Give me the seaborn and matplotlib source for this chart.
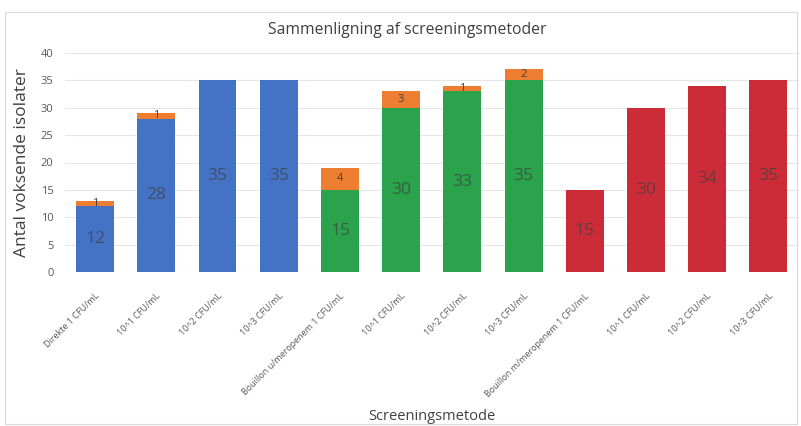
import matplotlib
matplotlib.use("Agg")
import matplotlib.pyplot as plt
import seaborn as sns
import pandas as pd
from matplotlib.patches import Rectangle

labels = ["Direkte 1 CFU/mL", "10^1 CFU/mL", "10^2 CFU/mL", "10^3 CFU/mL",
          "Bouillon u/meropenem 1 CFU/mL", "10^1 CFU/mL", "10^2 CFU/mL", "10^3 CFU/mL",
          "Bouillon m/meropenem 1 CFU/mL", "10^1 CFU/mL", "10^2 CFU/mL", "10^3 CFU/mL"]
base = [12, 28, 35, 35, 15, 30, 33, 35, 15, 30, 34, 35]
extra = [1, 1, 0, 0, 4, 3, 1, 2, 0, 0, 0, 0]
groups = ["Direkte"] * 4 + ["u/meropenem"] * 4 + ["m/meropenem"] * 4
group_colors = {"Direkte": "#4472C4", "u/meropenem": "#2BA24C", "m/meropenem": "#CB2C37"}
orange = "#ED7D31"

ids = [f"b{i}" for i in range(len(labels))]
df = pd.DataFrame({"id": ids, "base": base, "extra": extra, "group": groups})
df["total"] = df["base"] + df["extra"]

sns.set_theme(style="white")
plt.rcParams["font.family"] = ["Open Sans", "DejaVu Sans"]

fig = plt.figure(figsize=(8.01, 4.26), dpi=100)
ax = fig.add_axes([64.5 / 801, 1 - 272 / 426, (799 - 64.5) / 801, (272 - 53) / 426])

sns.barplot(data=df, x="id", y="total", color=orange, width=0.62, ax=ax,
            saturation=1, zorder=2, errorbar=None, linewidth=0)
sns.barplot(data=df, x="id", y="base", hue="group", palette=group_colors, width=0.62,
            ax=ax, saturation=1, zorder=3, dodge=False, legend=False, errorbar=None,
            linewidth=0)

for i, (b, e) in enumerate(zip(base, extra)):
    ax.text(i, b / 2, str(b), ha="center", va="center", fontsize=12.5,
            color="#404040", alpha=0.7, zorder=5)
    if e > 0:
        ax.text(i, b + e / 2, str(e), ha="center", va="center", fontsize=8,
                color="#404040", zorder=5)

ax.set_ylim(0, 40)
ax.set_xlim(-0.5, len(labels) - 0.5)
ax.set_yticks(range(0, 41, 5))
ax.tick_params(axis="y", labelsize=8, colors="#595959", length=0, pad=8)
ax.set_xticks(range(len(labels)))
ax.set_xticklabels(labels, rotation=45, ha="right", rotation_mode="anchor",
                   fontsize=6.5, color="#595959")
ax.tick_params(axis="x", length=0, pad=14)
ax.yaxis.grid(True, color="#E6E6E6", linewidth=0.8, zorder=0)
ax.set_axisbelow(True)
for s in ax.spines.values():
    s.set_visible(False)
ax.axhline(0, color="#D9D9D9", linewidth=0.8, zorder=1)

ax.set_ylabel("Antal voksende isolater", fontsize=12.5, color="#404040", labelpad=8)
ax.set_xlabel("Screeningsmetode", fontsize=10.5, color="#404040")
ax.xaxis.set_label_coords(0.5, 1 - (409 - 53) / (272 - 53))
fig.text(0.508, 1 - 30 / 426, "Sammenligning af screeningsmetoder", ha="center",
         va="center", fontsize=11.3, color="#404040")

fig.patches.append(Rectangle((5 / 801, 2 / 426), 792 / 801, 1 - 14 / 426,
                             transform=fig.transFigure, fill=False,
                             edgecolor="#D9D9D9", linewidth=0.8))

fig.savefig("out.png", dpi=100)
